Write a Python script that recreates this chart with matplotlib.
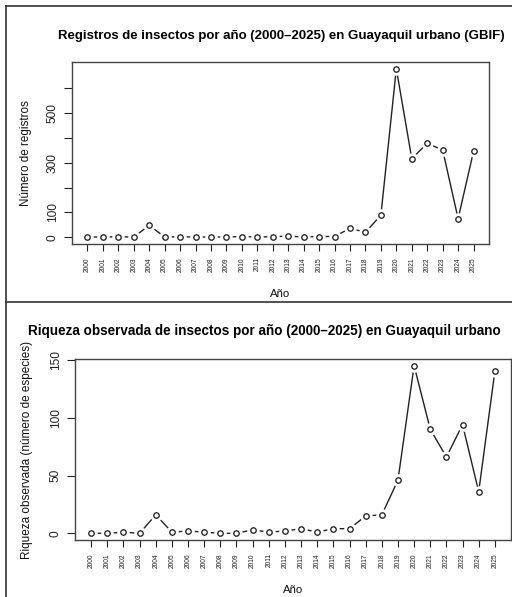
import matplotlib
matplotlib.use('Agg')
import matplotlib.pyplot as plt
from matplotlib.lines import Line2D

# ---- data ----
years = list(range(2000, 2026))
registros = [1, 1, 2, 1, 48, 1, 2, 1, 1, 1, 3, 1, 2, 5, 1, 3, 3, 36, 20, 89,
             678, 316, 378, 351, 75, 346]
riqueza = [0, 0, 1, 0, 16, 1, 2, 1, 0, 0, 3, 1, 2, 4, 1, 4, 4, 15, 16, 46,
           145, 90, 66, 94, 36, 140]
top_yticks = [0, 100, 200, 300, 400, 500, 600]
top_yticklabels = ['0', '100', '', '300', '', '500', '']
bot_yticks = [0, 50, 100, 150]
bot_yticklabels = ['0', '50', '100', '150']
title_top = 'Registros de insectos por año (2000–2025) en Guayaquil urbano (GBIF)'
title_bot = 'Riqueza observada de insectos por año (2000–2025) en Guayaquil urbano'
ylabel_top = 'Número de registros'
ylabel_bot = 'Riqueza observada (número de especies)'
xlabel = 'Año'

plt.rcParams['font.family'] = ['Liberation Sans', 'DejaVu Sans']

W, H = 512, 597
fig = plt.figure(figsize=(W / 100, H / 100), dpi=100)


def fx(px):
    return px / W


def fy(py):
    return 1 - py / H


INK = '#222222'


def panel(rect_px, yvals, yticks, yticklabels, ylim):
    x0, y0, x1, y1 = rect_px
    ax = fig.add_axes([fx(x0), fy(y1), fx(x1) - fx(x0), (y1 - y0) / H])
    ax.set_xlim(1999, 2026)
    ax.set_ylim(*ylim)
    ax.plot(years, yvals, color=INK, lw=1.0, zorder=2.0)
    ax.plot(years, yvals, ls='none', marker='o', ms=9, mfc='white',
            mec='none', zorder=2.1)
    ax.plot(years, yvals, ls='none', marker='o', ms=3.9, mfc='none',
            mec=INK, mew=0.95, zorder=2.2)
    ax.set_xticks(years)
    ax.set_xticklabels([str(y) for y in years], rotation=90, fontsize=4.8,
                       color='#222222')
    ax.set_yticks(yticks)
    ax.set_yticklabels(yticklabels, rotation=90, va='center', fontsize=8.6,
                       color='#222222')
    ax.tick_params(axis='x', length=5, width=0.8, color=INK, pad=4.5)
    ax.tick_params(axis='y', length=5.5, width=0.8, color=INK, pad=4.0)
    for s in ax.spines.values():
        s.set_color('#444444')
        s.set_linewidth(1.0)
        s.set_zorder(3)
    return ax


ax1 = panel((72, 62, 489, 244), registros, top_yticks, top_yticklabels,
            (-27.1, 705.1))
ax2 = panel((75, 359, 511, 540), riqueza, bot_yticks, bot_yticklabels,
            (-5.8, 150.8))

# titles and axis labels
fig.text(fx(281), fy(36), title_top, ha='center', va='center',
         fontsize=9.5, fontweight='bold', color='black')
fig.text(fx(28), fy(331), title_bot, ha='left', va='center',
         fontsize=9.75, fontweight='bold', color='black')
fig.text(fx(26), fy(153), ylabel_top, ha='center', va='center',
         rotation=90, fontsize=8.4, color='#111111')
fig.text(fx(27), fy(450), ylabel_bot, ha='center', va='center',
         rotation=90, fontsize=8.5, color='#111111')
fig.text(fx(280), fy(294), xlabel, ha='center', va='center',
         fontsize=8.2, color='#111111')
fig.text(fx(293), fy(590), xlabel, ha='center', va='center',
         fontsize=8.2, color='#111111')

# panel borders
for (xa, ya, xb, yb) in [(6, 5.5, 512, 5.5), (6, 5.5, 6, 597),
                         (6, 302, 512, 302)]:
    fig.add_artist(Line2D([fx(xa), fx(xb)], [fy(ya), fy(yb)],
                          transform=fig.transFigure, color='#333333',
                          lw=1.2))

fig.savefig('out.png', dpi=100, facecolor='white')
